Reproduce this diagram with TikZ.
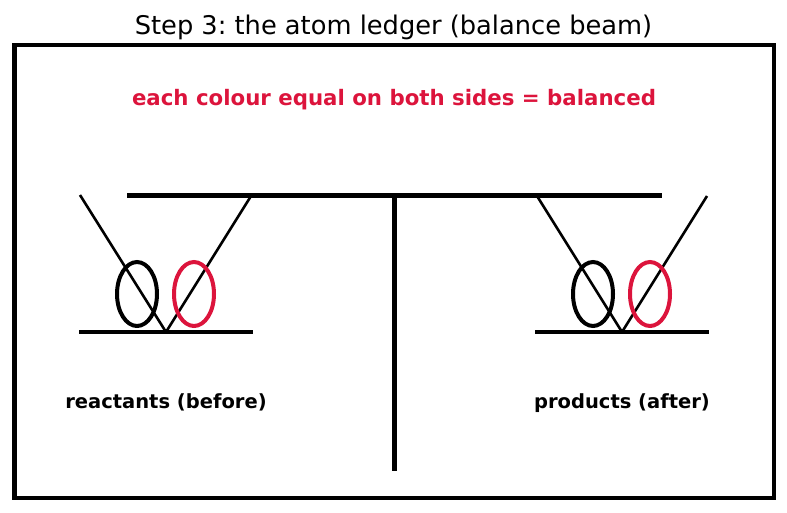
\documentclass[tikz,border=0pt]{standalone}
\usepackage{fontspec}
\setmainfont{DejaVu Sans}
\usetikzlibrary{shapes.geometric}
\definecolor{crim}{HTML}{DC143C}
\frenchspacing
\begin{document}
\begin{tikzpicture}[x=1pt,y=-1pt,
  framew/.style={line width=4.7pt},
  panline/.style={line width=4.3pt},
  stringline/.style={line width=2.6pt},
  atom/.style={ellipse,draw,line width=4pt,minimum width=40pt,minimum height=64pt,inner sep=0pt},
  lbl/.style={font=\fontsize{19.5}{23}\selectfont\bfseries,inner sep=0pt,anchor=base}]
\useasboundingbox (0,0) rectangle (787,512);
\node[font=\fontsize{25.7}{30}\selectfont,inner sep=0pt,anchor=base] (title) at (393.5,34) {Step 3: the atom ledger (balance beam)};
\draw[framew] (14.3,45) rectangle (774,498);
\node[font=\fontsize{21.3}{25}\selectfont\bfseries,text=crim,inner sep=0pt,anchor=base] (msg) at (394,105.7) {each colour equal on both sides = balanced};
% beam and post
\coordinate (bl) at (127,195.8);
\coordinate (br) at (662,195.8);
\coordinate (pt) at (394.2,195.8);
\coordinate (pb) at (394.2,470.7);
\draw[line width=5pt] (bl) -- (br);
\draw[line width=5pt] (pt) -- (pb);
% left pan
\coordinate (lpl) at (79,332);
\coordinate (lpr) at (253,332);
\coordinate (lpc) at (166,332);
\coordinate (ls1) at (80,195);
\coordinate (ls2) at (251,196);
\draw[stringline] (ls1) -- (lpc);
\draw[stringline] (ls2) -- (lpc);
\node[atom,draw=black] (la) at (137,294) {};
\node[atom,draw=crim] (lb) at (194,294) {};
\draw[panline] (lpl) -- (lpr);
% right pan
\coordinate (rpl) at (535,332);
\coordinate (rpr) at (709,332);
\coordinate (rpc) at (622,332);
\coordinate (rs1) at (537,196);
\coordinate (rs2) at (707,196);
\draw[stringline] (rs1) -- (rpc);
\draw[stringline] (rs2) -- (rpc);
\node[atom,draw=black] (ra) at (593,294) {};
\node[atom,draw=crim] (rb) at (650,294) {};
\draw[panline] (rpl) -- (rpr);
% labels
\node[lbl] (lt) at (166,408) {reactants (before)};
\node[lbl] (rt) at (622,408) {products (after)};
\end{tikzpicture}
\end{document}
